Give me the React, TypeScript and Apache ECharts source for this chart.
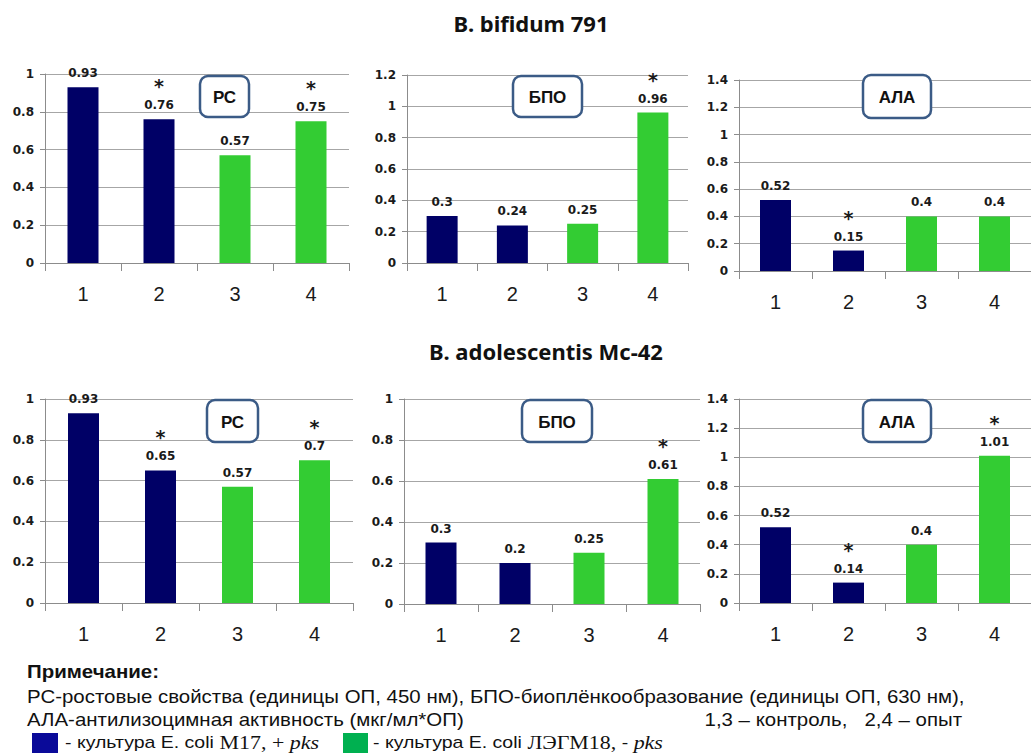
import React, { useEffect, useRef } from 'react';
import * as echarts from 'echarts';

// ---- data ----
const categories = ['1', '2', '3', '4'];
const panelNames = ['РС', 'БПО', 'АЛА'];
const strainTitles = ['B. bifidum 791', 'B. adolescentis Mc-42'];

const topRC = [0.93, 0.76, 0.57, 0.75];
const topBPO = [0.3, 0.24, 0.25, 0.96];
const topALA = [0.52, 0.15, 0.4, 0.4];
const botRC = [0.93, 0.65, 0.57, 0.7];
const botBPO = [0.3, 0.2, 0.25, 0.61];
const botALA = [0.52, 0.14, 0.4, 1.01];

const topRCStars = [false, true, false, true];
const topBPOStars = [false, false, false, true];
const topALAStars = [false, true, false, false];
const botRCStars = [false, true, false, true];
const botBPOStars = [false, false, false, true];
const botALAStars = [false, true, false, true];

const yMaxes = [1, 1.2, 1.4, 1, 1, 1.4];

const noteTitle = 'Примечание:';
const noteLine1 = 'РС-ростовые свойства (единицы ОП, 450 нм), БПО-биоплёнкообразование (единицы ОП, 630 нм),';
const noteLine2a = 'АЛА-антилизоцимная активность (мкг/мл*ОП)';
const noteLine2b = '1,3 – контроль,   2,4 – опыт';

// ---- styles / layout ----
const NAVY = '#000066';
const GREEN = '#33cc33';
const GRID_COLOR = '#a6a6a6';
const TEXT = '#1a1a1a';
const SANS = 'Liberation Sans, Arial, sans-serif';
const WIDE = 'DejaVu Sans, sans-serif';
const SERIF = 'Liberation Serif, Times New Roman, serif';

const grids = [
  { left: 45, top: 74, width: 304, height: 189 },
  { left: 407, top: 75, width: 281, height: 188 },
  { left: 739, top: 80, width: 304, height: 191 },
  { left: 45, top: 399, width: 308, height: 204 },
  { left: 404, top: 399, width: 296, height: 205 },
  { left: 739, top: 399, width: 304, height: 204 },
];

const boxes = [
  { x: 200, y: 76, w: 49, h: 41, t: 0 },
  { x: 513, y: 76, w: 69, h: 41, t: 1 },
  { x: 863, y: 75, w: 68, h: 43, t: 2 },
  { x: 207, y: 400, w: 51, h: 42, t: 0 },
  { x: 522, y: 400, w: 70, h: 42, t: 1 },
  { x: 863, y: 400, w: 68, h: 42, t: 2 },
];

const NOTE_SX = 1.136;
const LEG_SX = 1.22;

export default function App() {
  const ref = useRef<HTMLDivElement>(null);
  useEffect(() => {
    if (!ref.current) return;
    const chart = echarts.init(ref.current, undefined, { renderer: 'svg' });
    const values = [topRC, topBPO, topALA, botRC, botBPO, botALA];
    const stars = [topRCStars, topBPOStars, topALAStars, botRCStars, botBPOStars, botALAStars];

    const noteText = (text: string, x: number, y: number, opts: any = {}) => ({
      type: 'text',
      z: 100,
      x,
      y,
      scaleX: NOTE_SX,
      style: {
        text, x: 0, y: 0, verticalAlign: 'middle', align: opts.align || 'left',
        fontSize: 18, fontWeight: opts.bold ? 'bold' : 'normal', fontFamily: SANS, fill: '#111',
      },
    });

    const legendRich = {
      a: { fontSize: 16, fontFamily: SANS, fill: '#111' },
      b: { fontSize: 18, fontFamily: SERIF, fill: '#111' },
      c: { fontSize: 18, fontStyle: 'italic', fontFamily: SERIF, fill: '#111' },
    };

    const option: any = {
      animation: false,
      backgroundColor: '#ffffff',
      grid: grids.map((g) => ({ ...g, containLabel: false })),
      xAxis: grids.map((_, i) => ({
        type: 'category',
        gridIndex: i,
        data: categories,
        axisLine: { show: true, lineStyle: { color: '#8c8c8c', width: 1 } },
        axisTick: { show: true, length: 8, lineStyle: { color: '#8c8c8c' } },
        axisLabel: { fontSize: 20, color: TEXT, margin: 21, fontFamily: SANS },
      })),
      yAxis: grids.map((_, i) => ({
        type: 'value',
        gridIndex: i,
        min: 0,
        max: yMaxes[i],
        interval: 0.2,
        axisLine: { show: true, lineStyle: { color: '#8c8c8c', width: 1 } },
        axisTick: { show: true, length: 5, lineStyle: { color: '#8c8c8c' } },
        splitLine: { show: true, lineStyle: { color: GRID_COLOR, width: 1 } },
        axisLabel: {
          fontSize: 12,
          fontWeight: 'bold',
          color: TEXT,
          margin: 11,
          fontFamily: WIDE,
        },
      })),
      series: values.map((vals, i) => ({
        type: 'bar',
        xAxisIndex: i,
        yAxisIndex: i,
        barWidth: 31,
        data: vals.map((v, j) => ({ value: v, itemStyle: { color: j < 2 ? NAVY : GREEN } })),
        label: {
          show: true,
          position: 'top',
          distance: 7,
          formatter: (p: any) => (stars[i][p.dataIndex] ? `{s|*}\n{v|${p.value}}` : `{v|${p.value}}`),
          rich: {
            s: { fontSize: 19, fontWeight: 'bold', color: TEXT, lineHeight: 24, fontFamily: WIDE },
            v: { fontSize: 12, fontWeight: 'bold', color: TEXT, lineHeight: 14, fontFamily: WIDE },
          },
        },
      })),
      graphic: [
        {
          type: 'text',
          z: 100,
          style: {
            text: strainTitles[0], x: 531, y: 23, align: 'center', verticalAlign: 'middle',
            fontSize: 22, fontWeight: 'bold', fontFamily: 'Noto Sans, sans-serif', fill: '#111',
          },
        },
        {
          type: 'text',
          z: 100,
          style: {
            text: strainTitles[1], x: 546, y: 351, align: 'center', verticalAlign: 'middle',
            fontSize: 22, fontWeight: 'bold', fontFamily: 'Noto Sans, sans-serif', fill: '#111',
          },
        },
        ...boxes.map((b) => ({
          type: 'group',
          z: 100,
          children: [
            {
              type: 'rect',
              z: 100,
              shape: { x: b.x, y: b.y, width: b.w, height: b.h, r: 8 },
              style: { fill: '#ffffff', stroke: '#3b5b86', lineWidth: 2.5 },
            },
            {
              type: 'text',
              z: 101,
              style: {
                text: panelNames[b.t], x: b.x + b.w / 2, y: b.y + b.h / 2 + 1, align: 'center', verticalAlign: 'middle',
                fontSize: 17, fontWeight: 'bold', fontFamily: SANS, fill: '#111',
              },
            },
          ],
        })),
        noteText(noteTitle, 27, 672, { bold: true }),
        noteText(noteLine1, 27, 697),
        noteText(noteLine2a, 27, 720),
        noteText(noteLine2b, 962, 720, { align: 'right' }),
        {
          type: 'rect',
          z: 100,
          shape: { x: 32, y: 733, width: 26, height: 22 },
          style: { fill: '#0a0a99' },
        },
        {
          type: 'text',
          z: 100,
          x: 65,
          y: 743,
          scaleX: LEG_SX,
          style: {
            text: '{a|- культура E. coli }{b|M17, + }{c|pks}',
            x: 0, y: 0, verticalAlign: 'middle',
            rich: legendRich,
          },
        },
        {
          type: 'rect',
          z: 100,
          shape: { x: 343, y: 733, width: 25, height: 22 },
          style: { fill: '#00b050' },
        },
        {
          type: 'text',
          z: 100,
          x: 373,
          y: 743,
          scaleX: LEG_SX,
          style: {
            text: '{a|- культура E. coli }{b|ЛЭГМ18, }{a|- }{c|pks}',
            x: 0, y: 0, verticalAlign: 'middle',
            rich: legendRich,
          },
        },
      ],
    };
    chart.setOption(option);
    return () => chart.dispose();
  }, []);
  return (
    <div
      ref={ref}
      style={{ position: 'absolute', left: 0, top: 0, width: 1031, height: 753, background: '#fff' }}
    />
  );
}
